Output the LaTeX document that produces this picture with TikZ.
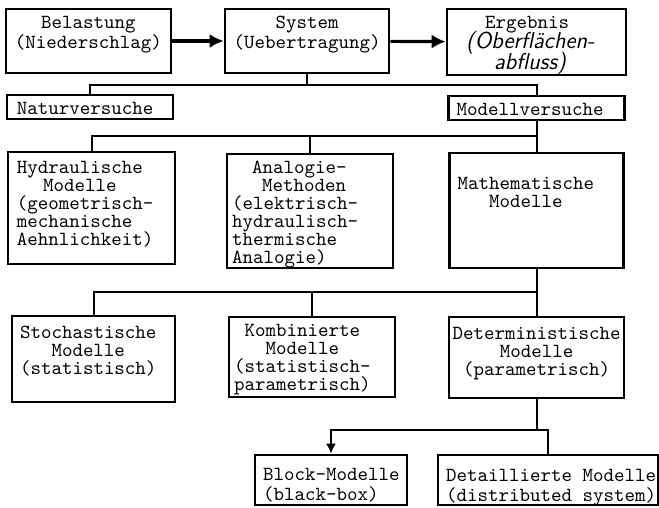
\documentclass[tikz,border=0pt]{standalone}
\usetikzlibrary{arrows.meta}

\newcommand{\boxtext}[5]{%
  \parbox[c][#2][t]{#1}{\lineskiplimit=-\maxdimen
    \vspace*{#3}\raggedright\leftskip=#4\relax #5}}

\begin{document}
\begin{tikzpicture}[
x=0.5pt,
y=-0.5pt,
blk/.style={
  draw,
  line width=1.3pt,
  inner sep=0pt,
  font=\ttfamily\fontsize{10}{9}\selectfont
  },
blkloose/.style={
  blk,
  font=\ttfamily\fontsize{10}{10.25}\selectfont
  },
link/.style={
  line width=1pt
  },
flow/.style={
  line width=1.6pt,
  -{Latex[length=7pt,width=7pt]}
  },
>={Latex[length=5pt,width=5pt]}
]
\useasboundingbox (0,0) rectangle (659,508);

% top row
\node[blkloose] (bel) at (88.5,41)
  {\boxtext{82.5pt}{32pt}{3.5pt}{0pt}{\centering Belastung\\(Niederschlag)}};
\node[blkloose] (sys) at (307,41)
  {\boxtext{82pt}{32pt}{3.5pt}{0pt}{\centering System\\(Uebertragung)}};
\node[blkloose] (erg) at (536.5,42)
  {\boxtext{89.5pt}{33pt}{3.5pt}{9.5pt}{\hspace*{9.5pt}Ergebnis\\{\sffamily\itshape\fontsize{11.5}{10.25}\selectfont (Oberflächen-\\\hspace*{14pt}abfluss)}}};

\draw[flow] (bel) -- (sys);
\draw[flow] (sys) -- (erg);

% second row
\node[blk] (nat) at (90,107)
  {\boxtext{83pt}{12pt}{3.5pt}{5pt}{Naturversuche}};
\node[blk] (mod) at (536.5,108)
  {\boxtext{88pt}{12pt}{3.5pt}{4pt}{Modellversuche}};

\coordinate (j1) at (307,85);
\draw[link] (sys.south) -- (j1);
\draw[link] (nat.north) |- (j1) -| (mod.north);

% third row
\node[blk] (hyd) at (91.5,208)
  {\boxtext{83.5pt}{56pt}{4.5pt}{4.5pt}{Hydraulische\\\hspace*{13pt}Modelle\\(geometrisch-\\mechanische\\Aehnlichkeit)}};
\node[blk] (ana) at (310,211)
  {\boxtext{83pt}{57pt}{3.5pt}{2.5pt}{\hspace*{10pt}Analogie-\\\hspace*{15pt}Methoden\\(elektrisch-\\hydraulisch-\\thermische\\Analogie)}};
\node[blk] (math) at (536.5,210.5)
  {\boxtext{87pt}{57.5pt}{12pt}{4pt}{Mathematische\\\hspace*{15.75pt}Modelle}};

\coordinate (j2) at (536.5,136);
\draw[link] (mod) -- (math);
\foreach \n in {hyd,ana}
  \draw[link] (\n.north) |- (j2);

% fourth row
\node[blk] (sto) at (93.5,359)
  {\boxtext{81.5pt}{43pt}{5pt}{4pt}{Stochastische\\\hspace*{15.75pt}Modelle\\(statistisch)}};
\node[blk] (kom) at (312,357)
  {\boxtext{83pt}{40pt}{3.5pt}{2.5pt}{\hspace*{5.25pt}Kombinierte\\\hspace*{15.75pt}Modelle\\(statistisch-\\parametrisch)}};
\node[blk] (det) at (536.5,357.5)
  {\boxtext{87.5pt}{40.5pt}{5pt}{0pt}{\centering Deterministische\\Modelle\\(parametrisch)}};

\coordinate (j3) at (536.5,292);
\draw[link] (math) -- (det);
\foreach \n in {sto,kom}
  \draw[link] (\n.north) |- (j3);

% bottom row
\node[blkloose] (blk) at (331,480)
  {\boxtext{76pt}{25pt}{6.5pt}{4pt}{Block-Modelle\\(black-box)}};
\node[blkloose] (detl) at (548,480)
  {\boxtext{110pt}{25pt}{7pt}{4pt}{Detaillierte Modelle\\(distributed system)}};

\coordinate (j4) at (536.5,430);
\draw[link] (det.south) -- (j4);
\draw[link,->] (j4) -| (blk.north);
\draw[link] (j4) -| (detl.north);

\end{tikzpicture}
\end{document}
